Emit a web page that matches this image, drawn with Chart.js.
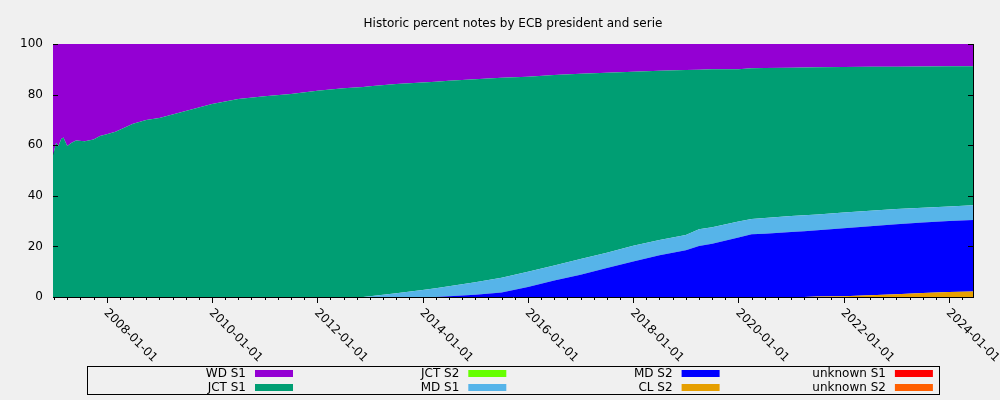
<!DOCTYPE html>
<html>
<head>
<meta charset="utf-8">
<script src="https://cdn.jsdelivr.net/npm/chart.js@4.4.1/dist/chart.umd.min.js"></script>
<style>
    html, body { margin: 0; padding: 0; background: #f0f0f0; }
    #wrap { width: 1000px; height: 400px; }
</style>
</head>
<body>
<div id="wrap"><canvas id="chart" width="1000" height="400"></canvas></div>
<script>
"use strict";

const title = "Historic percent notes by ECB president and serie";

const dates = [
    "2006-12-24", "2007-01-15", "2007-02-01", "2007-02-20", "2007-03-05", "2007-04-01", "2007-05-01", "2007-06-01",
    "2007-08-01", "2007-10-01", "2007-11-15", "2008-01-01", "2008-03-01", "2008-07-01", "2008-10-01", "2009-01-01",
    "2009-07-01", "2010-01-01", "2010-07-01", "2011-01-01", "2011-07-01", "2012-01-01", "2012-07-01", "2012-11-15",
    "2013-01-01", "2013-07-01", "2014-01-01", "2014-04-01", "2014-07-01", "2015-01-01", "2015-07-01", "2016-01-01",
    "2016-07-01", "2017-01-01", "2017-07-01", "2018-01-01", "2018-07-01", "2019-01-01", "2019-04-01", "2019-07-01",
    "2020-01-01", "2020-04-01", "2020-07-01", "2021-01-01", "2021-04-01", "2021-07-01", "2022-01-01", "2022-07-01",
    "2023-01-01", "2023-07-01", "2024-01-01", "2024-06-15"
];

// percent of notes per president / serie, one value per date
const wdS1 = [
    44, 39, 40.3, 37.5, 37, 40.3, 39, 38.1, 38.4, 37.7, 36.4, 35.7, 34.7,
    31.5, 30, 29.2, 26.5, 23.7, 21.7, 20.7, 19.8, 18.5, 17.5, 17.0, 16.7,
    15.8, 15.2, 14.9, 14.5, 13.9, 13.3, 12.9, 12.3, 11.8, 11.4, 11.0, 10.6,
    10.3, 10.2, 10.0, 10.0, 9.6, 9.5, 9.4, 9.3, 9.2, 9.1, 9.0, 9.0, 8.9, 8.8, 8.8
];
const jctS1 = [
    56, 61, 59.7, 62.5, 63, 59.7, 61, 61.9, 61.6, 62.3, 63.6, 64.3, 65.3,
    68.5, 70, 70.8, 73.5, 76.3, 78.3, 79.3, 80.2, 81.5, 82.5, 83.0, 83.0,
    82.7, 82.0, 81.6, 81.3, 80.3, 79.1, 77.1, 75.2, 73.2, 71.1, 68.7, 66.9,
    65.2, 63.0, 62.4, 60.2, 59.6, 59.3, 58.6, 58.4, 58.2, 57.5, 56.9, 56.2, 55.8, 55.4, 54.9
];
const jctS2 = [
    0, 0, 0, 0, 0, 0, 0, 0, 0, 0, 0, 0, 0,
    0, 0, 0, 0, 0, 0, 0, 0, 0, 0, 0, 0,
    0, 0, 0, 0, 0, 0, 0, 0, 0, 0, 0, 0,
    0, 0, 0, 0, 0, 0, 0, 0, 0, 0, 0, 0, 0, 0, 0
];
const mdS1 = [
    0, 0, 0, 0, 0, 0, 0, 0, 0, 0, 0, 0, 0,
    0, 0, 0, 0, 0, 0, 0, 0, 0, 0, 0, 0.3,
    1.5, 2.8, 3.5, 3.9, 4.9, 5.8, 6.0, 6.0, 6.2, 6.0, 6.3, 6.0,
    6.0, 6.6, 6.6, 6.3, 6.0, 6.2, 6.3, 6.3, 6.2, 6.2, 6.1, 6.0, 5.9, 5.8, 5.9
];
const mdS2 = [
    0, 0, 0, 0, 0, 0, 0, 0, 0, 0, 0, 0, 0,
    0, 0, 0, 0, 0, 0, 0, 0, 0, 0, 0, 0,
    0, 0, 0, 0.3, 0.9, 1.8, 4.0, 6.5, 8.8, 11.5, 14.0, 16.5,
    18.5, 20.2, 21, 23.5, 24.8, 25, 25.7, 26.0, 26.25, 26.9, 27.3, 27.7, 27.8, 28.0, 28.2
];
const clS2 = [
    0, 0, 0, 0, 0, 0, 0, 0, 0, 0, 0, 0, 0,
    0, 0, 0, 0, 0, 0, 0, 0, 0, 0, 0, 0,
    0, 0, 0, 0, 0, 0, 0, 0, 0, 0, 0, 0,
    0, 0, 0, 0, 0, 0, 0, 0, 0.15, 0.3, 0.7, 1.1, 1.6, 2.0, 2.2
];
const unknownS1 = [
    0, 0, 0, 0, 0, 0, 0, 0, 0, 0, 0, 0, 0,
    0, 0, 0, 0, 0, 0, 0, 0, 0, 0, 0, 0,
    0, 0, 0, 0, 0, 0, 0, 0, 0, 0, 0, 0,
    0, 0, 0, 0, 0, 0, 0, 0, 0, 0, 0, 0, 0, 0, 0
];
const unknownS2 = [
    0, 0, 0, 0, 0, 0, 0, 0, 0, 0, 0, 0, 0,
    0, 0, 0, 0, 0, 0, 0, 0, 0, 0, 0, 0,
    0, 0, 0, 0, 0, 0, 0, 0, 0, 0, 0, 0,
    0, 0, 0, 0, 0, 0, 0, 0, 0, 0, 0, 0, 0, 0, 0
];

// legend order (top of the stack first)
const seriesNames = ["WD S1", "JCT S1", "JCT S2", "MD S1", "MD S2", "CL S2", "unknown S1", "unknown S2"];
const seriesValues = [wdS1, jctS1, jctS2, mdS1, mdS2, clS2, unknownS1, unknownS2];
const seriesColors = ["#9400d3", "#009e73", "#66ff00", "#56b4e9", "#0000ff", "#e69f00", "#ff0000", "#ff5f00"];

const yearTicks = [2008, 2010, 2012, 2014, 2016, 2018, 2020, 2022, 2024];

const FONT = "DejaVu Sans";

const toYear = (s) => {
    const [y, m, d] = s.split("-").map(Number);
    return y + (m - 1) / 12 + (d - 1) / 365;
};
const xs = dates.map(toYear);

// stack from the bottom: last legend entry first
const datasets = seriesNames.map((name, i) => ({
    label: name,
    data: seriesValues[i].map((v, j) => ({ x: xs[j], y: v })),
    backgroundColor: seriesColors[i],
    borderColor: "transparent",
    borderWidth: 0,
    pointRadius: 0,
    tension: 0
})).reverse();
datasets.forEach((ds, i) => { ds.fill = i === 0 ? "origin" : "-1"; });

const gnuplotFrame = {
    id: "gnuplotFrame",
    afterDraw(chart) {
        const { ctx, chartArea: a, scales: { x, y } } = chart;
        ctx.save();
        ctx.strokeStyle = "#000";
        ctx.lineWidth = 1;
        ctx.beginPath();
        ctx.moveTo(a.right + 0.5, a.top);
        ctx.lineTo(a.right + 0.5, a.bottom + 0.5);
        y.ticks.forEach((t) => {
            const py = Math.round(y.getPixelForValue(t.value)) + 0.5;
            ctx.moveTo(a.left, py); ctx.lineTo(a.left + 5, py);
            ctx.moveTo(a.right, py); ctx.lineTo(a.right - 5, py);
        });
        for (let k = Math.ceil(x.min * 4); k <= Math.floor(x.max * 4); k++) {
            const px = Math.round(x.getPixelForValue(k / 4)) + 0.5;
            const len = k % 8 === 0 ? 6 : 3;
            ctx.moveTo(px, a.bottom); ctx.lineTo(px, a.bottom + len);
        }
        ctx.stroke();

        // rotated date labels
        ctx.fillStyle = "#000";
        ctx.font = `12px "${FONT}"`;
        ctx.textAlign = "left";
        ctx.textBaseline = "middle";
        x.ticks.forEach((t) => {
            const px = x.getPixelForValue(t.value);
            ctx.save();
            ctx.translate(px - 1, a.bottom + 14);
            ctx.rotate(Math.PI / 4);
            ctx.fillText(`${t.value}-01-01`, 0, 0);
            ctx.restore();
        });

        // title
        ctx.textAlign = "center";
        ctx.textBaseline = "alphabetic";
        ctx.fillText(title, (a.left + a.right) / 2, 27);

        // legend: 4 columns x 2 rows, filled column by column
        const cx = (a.left + a.right) / 2;
        ctx.strokeRect(Math.round(cx - 426) + 0.5, 366.5, 852, 28);
        ctx.textAlign = "right";
        ctx.textBaseline = "middle";
        seriesNames.forEach((name, i) => {
            const col = Math.floor(i / 2);
            const row = i % 2;
            const tx = cx - 267 + col * 213.3;
            const ty = 373.5 + row * 14;
            ctx.fillStyle = "#000";
            ctx.fillText(name, tx, ty);
            ctx.fillStyle = seriesColors[i];
            ctx.fillRect(tx + 9, ty - 3.5, 38, 7);
        });
        ctx.restore();
    }
};

new Chart(document.getElementById("chart").getContext("2d"), {
    type: "line",
    data: { datasets },
    options: {
        responsive: false,
        animation: false,
        layout: { padding: { top: 44, right: 27, left: 0, bottom: 0 } },
        plugins: { legend: { display: false }, tooltip: { enabled: false }, title: { display: false } },
        scales: {
            x: {
                type: "linear",
                min: xs[0],
                max: xs[xs.length - 1],
                afterBuildTicks: (s) => { s.ticks = yearTicks.map((v) => ({ value: v })); },
                afterFit: (s) => { s.height = 103; },
                ticks: { display: false },
                grid: { display: false, drawTicks: false },
                border: { display: true, color: "#000", width: 1 }
            },
            y: {
                stacked: true,
                min: 0,
                max: 100,
                afterFit: (s) => { s.width = 53; },
                ticks: { stepSize: 20, padding: 10, color: "#000", font: { family: FONT, size: 12 } },
                grid: { display: false, drawTicks: false },
                border: { display: true, color: "#000", width: 1 }
            }
        }
    },
    plugins: [gnuplotFrame]
});
</script>
</body>
</html>
